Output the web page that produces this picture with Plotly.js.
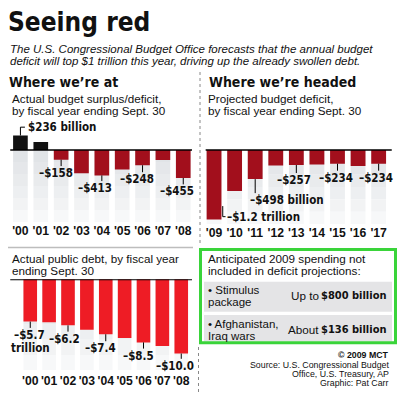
<!DOCTYPE html>
<html><head><meta charset="utf-8">
<script src="https://cdn.plot.ly/plotly-3.0.1.min.js"></script>
<style>html,body{margin:0;padding:0;background:#fff;} #chart{width:400px;height:395px;}</style>
</head><body><div id="chart"></div>
<script>
// ---- data ----
const years1 = ["'00","'01","'02","'03","'04","'05","'06","'07","'08"];
const deficit1 = [236, 128, -158, -378, -413, -318, -248, -161, -455];
const years2 = ["'09","'10","'11","'12","'13","'14","'15","'16","'17"];
const deficit2 = [-1186, -703, -498, -264, -257, -250, -234, -273, -234];
const years3 = ["'00","'01","'02","'03","'04","'05","'06","'07","'08"];
const debt3 = [-5.7, -5.8, -6.2, -6.8, -7.4, -7.9, -8.5, -9.0, -10.0];

const labelIdx1 = [0, 2, 4, 6, 8];
const labelText1 = ['$236 billion', '–$158', '–$413', '–$248', '–$455'];
const labelIdx2 = [0, 2, 4, 6, 8];
const labelText2 = ['–$1.2 trillion', '–$498 billion', '–$257', '–$234', '–$234'];
const labelIdx3 = [0, 2, 4, 6, 8];
const labelText3 = ['–$5.7', '–$6.2', '–$7.4', '–$8.5', '–$10.0'];
const unit3 = 'trillion';

const spendItems = ['• Stimulus', 'package', '• Afghanistan,', 'Iraq wars'];
const spendPrefix = ['Up to', 'About'];
const spendAmount = ['$800 billion', '$136 billion'];

// ---- styles ----
const W = 400, H = 395;
const px = x => x / W, py = y => 1 - y / H;
const NARROW = "'DejaVu Sans Condensed', 'Liberation Sans Narrow', sans-serif";
const REG = "'Liberation Sans', Arial, Helvetica, sans-serif";
const DARKRED = '#a20f1c', BRIGHTRED = '#ee1c25', BLACK = '#111111';
const LBL = 11.5;

const traces = [
  {type:'bar', x: years1, y: deficit1, xaxis:'x', yaxis:'y',
   marker:{color: deficit1.map(v => v >= 0 ? BLACK : DARKRED), line:{width:0}}, hoverinfo:'skip'},
  {type:'bar', x: years2, y: deficit2, xaxis:'x2', yaxis:'y2',
   marker:{color: DARKRED, line:{width:0}}, hoverinfo:'skip'},
  {type:'bar', x: years3, y: debt3, xaxis:'x3', yaxis:'y3',
   marker:{color: BRIGHTRED, line:{width:0}}, hoverinfo:'skip'}
];

const range1 = [-1171, 406], range2 = [-1265, 427], range3 = [-12.22, 0];
const tickfont = {family: REG, size: 12.2, weight: 'bold', color: BLACK};
const xbase = {type:'category', showgrid:false, zeroline:false, showline:false, ticks:'', tickangle:0, tickfont, fixedrange:true};
const ybase = {visible:false, showgrid:false, zeroline:false, fixedrange:true};

const shapes = [];
// gradient background columns
const bandCols = ['#e1e4e7', '#e5e7ea', '#e9ebed', '#edeff1', '#f2f3f4', '#f7f8f9'];
function columns(n, xref, yref, bottom) {
  for (let i = 0; i < n; i++) {
    bandCols.forEach((c, k) => {
      shapes.push({type:'rect', layer:'below', xref, yref, x0: i - 0.36, x1: i + 0.36,
        y0: bottom * k / bandCols.length, y1: bottom * (k + 1) / bandCols.length,
        fillcolor: c, line:{width:0}});
    });
  }
}
columns(years1.length, 'x', 'y', range1[0]);
columns(years2.length, 'x2', 'y2', range2[0]);
columns(years3.length, 'x3', 'y3', range3[0]);

// zero lines
shapes.push({type:'line', xref:'x domain', yref:'y', x0:0, x1:0.985, y0:0, y1:0, line:{color:'#000', width:1.5}});
shapes.push({type:'line', xref:'x2 domain', yref:'y2', x0:0.01, x1:0.99, y0:0, y1:0, line:{color:'#000', width:1.5}});
shapes.push({type:'line', xref:'x3 domain', yref:'y3', x0:0, x1:0.985, y0:0, y1:0, line:{color:'#000', width:2}});

// dividers and box
shapes.push({type:'line', xref:'paper', yref:'paper', x0:px(200), x1:px(200), y0:py(72), y1:py(246), line:{color:'#888', width:1, dash:'dot'}});
shapes.push({type:'line', xref:'paper', yref:'paper', x0:px(198.5), x1:px(198.5), y0:py(347), y1:py(395), line:{color:'#888', width:1, dash:'dot'}});
shapes.push({type:'line', xref:'paper', yref:'paper', x0:px(8), x1:px(193), y0:py(247.5), y1:py(247.5), line:{color:'#bdbdbd', width:1.5}});
shapes.push({type:'rect', xref:'paper', yref:'paper', x0:px(204), x1:px(392), y0:py(281.7), y1:py(311.7), fillcolor:'#e4e4e6', line:{width:0}});
shapes.push({type:'rect', xref:'paper', yref:'paper', x0:px(204), x1:px(392), y0:py(315), y1:py(341.5), fillcolor:'#e4e4e6', line:{width:0}});
shapes.push({type:'rect', xref:'paper', yref:'paper', x0:px(200.5), x1:px(395.5), y0:py(249.5), y1:py(342.8), fillcolor:'rgba(0,0,0,0)', line:{color:'#3ad43a', width:3}});

const annotations = [];
function txt(x, y, text, size, o = {}) {
  annotations.push(Object.assign({xref:'paper', yref:'paper', x: px(x), y: py(y), text, showarrow:false, borderpad:0,
    xanchor:'left', yanchor:'middle', font:{family: o.family || REG, size, color: o.color || BLACK, weight: o.weight || 'normal', style: o.style || 'normal'}}, o.extra || {}));
}
// value labels with leader lines
const off1 = [[6.2, 8.3], [-5, -13.4], [-7, -12.7], [-5.5, -14], [-6.5, -13.4]];
const off2 = [[11.7, 2.7], [-6.5, -21], [-2.3, -15], [-1.7, -14], [-3, -14]];
const off3 = [[-0.5, -13.3], [-3.5, -13.3], [-4.8, -14], [-5.2, -13.2], [-6.5, -12.3]];
const leftAnchored = ['$236 billion', '–$1.2 trillion', '–$498 billion'];
function valueLabels(idx, texts, offs, cats, vals, xa, ya) {
  idx.forEach((ci, k) => {
    const [dx, dy] = offs[k];
    annotations.push({xref: xa, yref: ya, x: cats[ci], y: vals[ci], text: texts[k], showarrow:false, borderpad:0,
      xanchor: leftAnchored.includes(texts[k]) ? 'left' : 'center', yanchor:'middle', xshift: dx, yshift: dy,
      font:{family: NARROW, size: LBL, weight:'bold', color: BLACK}});
  });
}
valueLabels(labelIdx1, labelText1, off1, years1, deficit1, 'x', 'y');
valueLabels(labelIdx2, labelText2, off2, years2, deficit2, 'x2', 'y2');
valueLabels(labelIdx3, labelText3, off3, years3, debt3, 'x3', 'y3');
annotations.push({xref:'x3', yref:'y3', x: years3[labelIdx3[0]], y: debt3[labelIdx3[0]], text: unit3, showarrow:false, borderpad:0,
  xanchor:'center', yanchor:'middle', xshift: 0.5, yshift: -26.8, font:{family: NARROW, size: LBL, weight:'bold', color: BLACK}});

function leaders(idx, vals, xa, ya, offs, skipFirst) {
  idx.forEach((ci, k) => {
    if (skipFirst && k === 0) return;
    const len = -offs[k][1] - 7;
    shapes.push({type:'line', xref: xa, yref: ya, xsizemode:'pixel', ysizemode:'pixel',
      xanchor: ci, yanchor: vals[ci], x0:0, x1:0, y0:0, y1:-len, line:{color:'#000', width:1}});
  });
}
leaders(labelIdx1, deficit1, 'x', 'y', off1, true);
leaders(labelIdx2, deficit2, 'x2', 'y2', off2, true);
leaders(labelIdx3, debt3, 'x3', 'y3', off3, false);
// elbows
shapes.push({type:'path', xref:'x', yref:'y', xsizemode:'pixel', ysizemode:'pixel', xanchor: labelIdx1[0], yanchor: deficit1[labelIdx1[0]],
  path:'M0,0 L0,8.3 L4.5,8.3', line:{color:'#000', width:1}});
shapes.push({type:'path', xref:'x2', yref:'y2', xsizemode:'pixel', ysizemode:'pixel', xanchor: labelIdx2[0], yanchor: deficit2[labelIdx2[0]],
  path:'M8.7,13.3 L8.7,2.7 L11.5,2.7', line:{color:'#000', width:1}});

// headings & texts
txt(6.5, 22, 'Seeing red', 26, {family: NARROW, weight:'bold'});
txt(8.5, 49.3, 'The U.S. Congressional Budget Office forecasts that the annual budget', 11.5, {style:'italic'});
txt(8.5, 61.5, 'deficit will top $1 trillion this year, driving up the already swollen debt.', 11.5, {style:'italic'});
txt(7.5, 81.7, 'Where we’re at', 14, {family: NARROW, weight:'bold'});
txt(207.5, 81.7, 'Where we’re headed', 14, {family: NARROW, weight:'bold'});
txt(11, 98.3, 'Actual budget surplus/deficit,', 11.7);
txt(11, 111, 'by fiscal year ending Sept. 30', 11.7);
txt(207, 98.3, 'Projected budget deficit,', 11.7);
txt(207, 111, 'by fiscal year ending Sept. 30', 11.7);
txt(10.5, 258, 'Actual public debt, by fiscal year', 11.7);
txt(10.5, 270, 'ending Sept. 30', 11.7);
txt(207, 258, 'Anticipated 2009 spending not', 11.7);
txt(207, 270, 'included in deficit projections:', 11.7);
txt(207, 290, spendItems[0], 11.5);
txt(207, 302.4, spendItems[1], 11.5);
txt(207, 323.5, spendItems[2], 11.5);
txt(207, 335.9, spendItems[3], 11.5);
txt(320, 295.7, spendPrefix[0], 11.7, {extra:{xanchor:'right'}});
txt(387, 295.7, spendAmount[0], 11, {family: NARROW, weight:'bold', extra:{xanchor:'right'}});
txt(320, 329.3, spendPrefix[1], 11.7, {extra:{xanchor:'right'}});
txt(387, 329.3, spendAmount[1], 11, {family: NARROW, weight:'bold', extra:{xanchor:'right'}});
txt(390, 355, '© 2009 MCT', 8.8, {weight:'bold', extra:{xanchor:'right'}});
txt(390, 364.5, 'Source: U.S. Congressional Budget', 8.8, {extra:{xanchor:'right'}});
txt(390, 373.5, 'Office, U.S. Treasury, AP', 8.8, {extra:{xanchor:'right'}});
txt(390, 382.5, 'Graphic: Pat Carr', 8.8, {extra:{xanchor:'right'}});

const layout = {
  width: W, height: H, margin:{l:0, r:0, t:0, b:0, pad:0},
  paper_bgcolor:'#fff', plot_bgcolor:'rgba(0,0,0,0)', showlegend:false, bargap:0.28,
  xaxis: Object.assign({}, xbase, {domain:[px(10.25), px(194.75)], anchor:'y'}),
  yaxis: Object.assign({}, ybase, {domain:[py(222), py(125)], range: range1, anchor:'x'}),
  xaxis2: Object.assign({}, xbase, {domain:[px(203.75), px(393.65)], anchor:'y2'}),
  yaxis2: Object.assign({}, ybase, {domain:[py(224), py(125)], range: range2, anchor:'x2'}),
  xaxis3: Object.assign({}, xbase, {domain:[px(10.25), px(194.75)], anchor:'y3', ticklabelstandoff: 2}),
  yaxis3: Object.assign({}, ybase, {domain:[py(370), py(279.3)], range: range3, anchor:'x3'}),
  shapes, annotations
};
Plotly.newPlot('chart', traces, layout, {staticPlot:true, displayModeBar:false});
</script></body></html>
